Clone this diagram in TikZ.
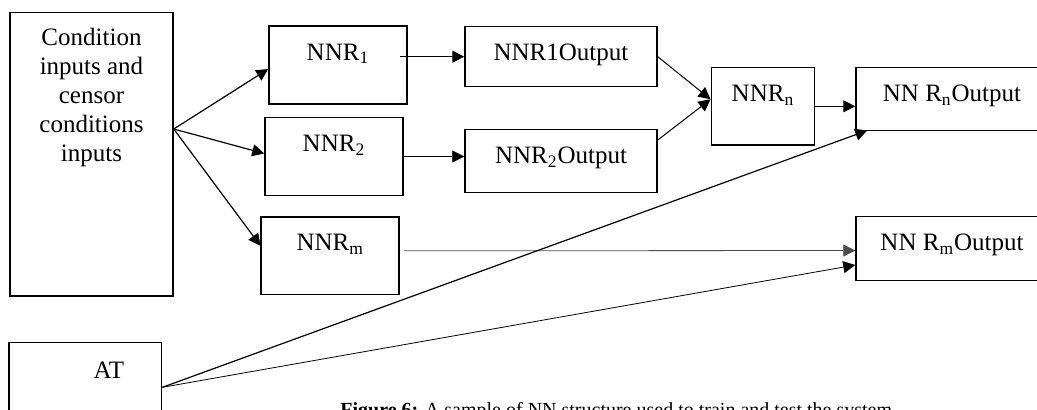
\documentclass[tikz,border=0pt]{standalone}
\usepackage{fontspec}
\setmainfont{Liberation Serif}
\usetikzlibrary{arrows.meta,calc,positioning}
\newcommand{\boxfont}{\fontsize{12.5}{14.5}\selectfont}
\tikzstyle{box} = [rectangle, draw, line width=0.75pt, inner sep=0pt]
\tikzstyle{line} = [draw, line width=0.6pt, -{Triangle[length=6pt,width=6pt]}]
\tikzstyle{thinline} = [line, line width=0.4pt]
\tikzset{wh/.style 2 args={minimum width=#1*0.5pt, minimum height=#2*0.5pt},
         boxtext/.style 2 args={label={[below=#1, inner sep=0pt, font=\boxfont, align=center]north:#2}}}

\begin{document}
\begin{tikzpicture}[x=0.5pt, y=-0.5pt]
      \useasboundingbox (0,0) rectangle (1037,409);
      \clip (0,0) rectangle (1037,409);
      % inputs
      \node [box, wh={163}{283.3},
        boxtext={8pt}{Condition\\inputs and\\censor\\conditions\\inputs}] (cond) at (91.5,154.3) {};
      \node [box, wh={152.7}{90},
        label={[below=10pt, xshift=11.75pt, inner sep=0pt, font=\boxfont]north:AT}] (at) at (85.3,387.3) {};
      % networks
      \node [box, wh={138}{78}, boxtext={9pt}{NNR\textsubscript{1}}] (nnr1) at (338,65) {};
      \node [box, wh={138}{77.6}, boxtext={9pt}{NNR\textsubscript{2}}] (nnr2) at (334,156.5) {};
      \node [box, wh={138}{77.7}, boxtext={9pt}{NNR\textsubscript{m}}] (nnrm) at (330.2,255.8) {};
      \node [box, wh={192}{60}, boxtext={9pt}{NNR1Output}] (nnr1out) at (561,56.7) {};
      \node [box, wh={192}{63.4}, boxtext={9pt}{NNR\textsubscript{2}Output}] (nnr2out) at (561,161) {};
      \node [box, wh={103.4}{77.3}, boxtext={9pt}{NNR\textsubscript{n}}] (nnrn) at (763,106.3) {};
      % outputs
      \node [box, wh={192}{63.4}, boxtext={9pt}{NN R\textsubscript{n}Output}] (rnout) at (952,99) {};
      \node [box, wh={192}{63.6}, boxtext={9pt}{NN R\textsubscript{m}Output}] (rmout) at (952,248.5) {};
      \node [anchor=north west, inner sep=0pt, font=\fontsize{10}{12}\selectfont] (caption) at (340,401.7)
        {\textbf{Figure 6:} A sample of NN structure used to train and test the system.};
      \coordinate (fork) at ($(cond.east)+(0,-25.3)$);
      \coordinate (join) at ($(nnrn.west)+(0,-7)$);
      \path [line] (fork) -- ($(nnr1.west)+(0,4)$);
      \path [line] (fork) -- ($(nnr2.west)+(0,-3)$);
      \path [line] (fork) -- ($(nnrm.west)+(0,-10)$);
      \path [line] ($(nnr1.east |- nnr1out.west)+(-8,0)$) -- (nnr1out.west);
      \path [thinline] (nnr2.east) -- (nnr2.east -| nnr2out.west);
      \path [thinline, draw=black!70] ($(nnrm.east)+(4,-5)$) -- ($(rmout.west)+(0,2)$);
      \path [thinline, line width=0.5pt] (nnr1out.east) -- (join);
      \path [thinline, line width=0.5pt] ($(nnr2out.east)+(0,-21)$) -- (join);
      \path [line] (nnrn.east) -- (nnrn.east -| rnout.west);
      \path [line] (at.east) -- ($(rnout.south west)+(12,-1)$);
      \path [thinline] (at.east) -- ($(rmout.west)+(0,16.5)$);
    \end{tikzpicture}
\end{document}
